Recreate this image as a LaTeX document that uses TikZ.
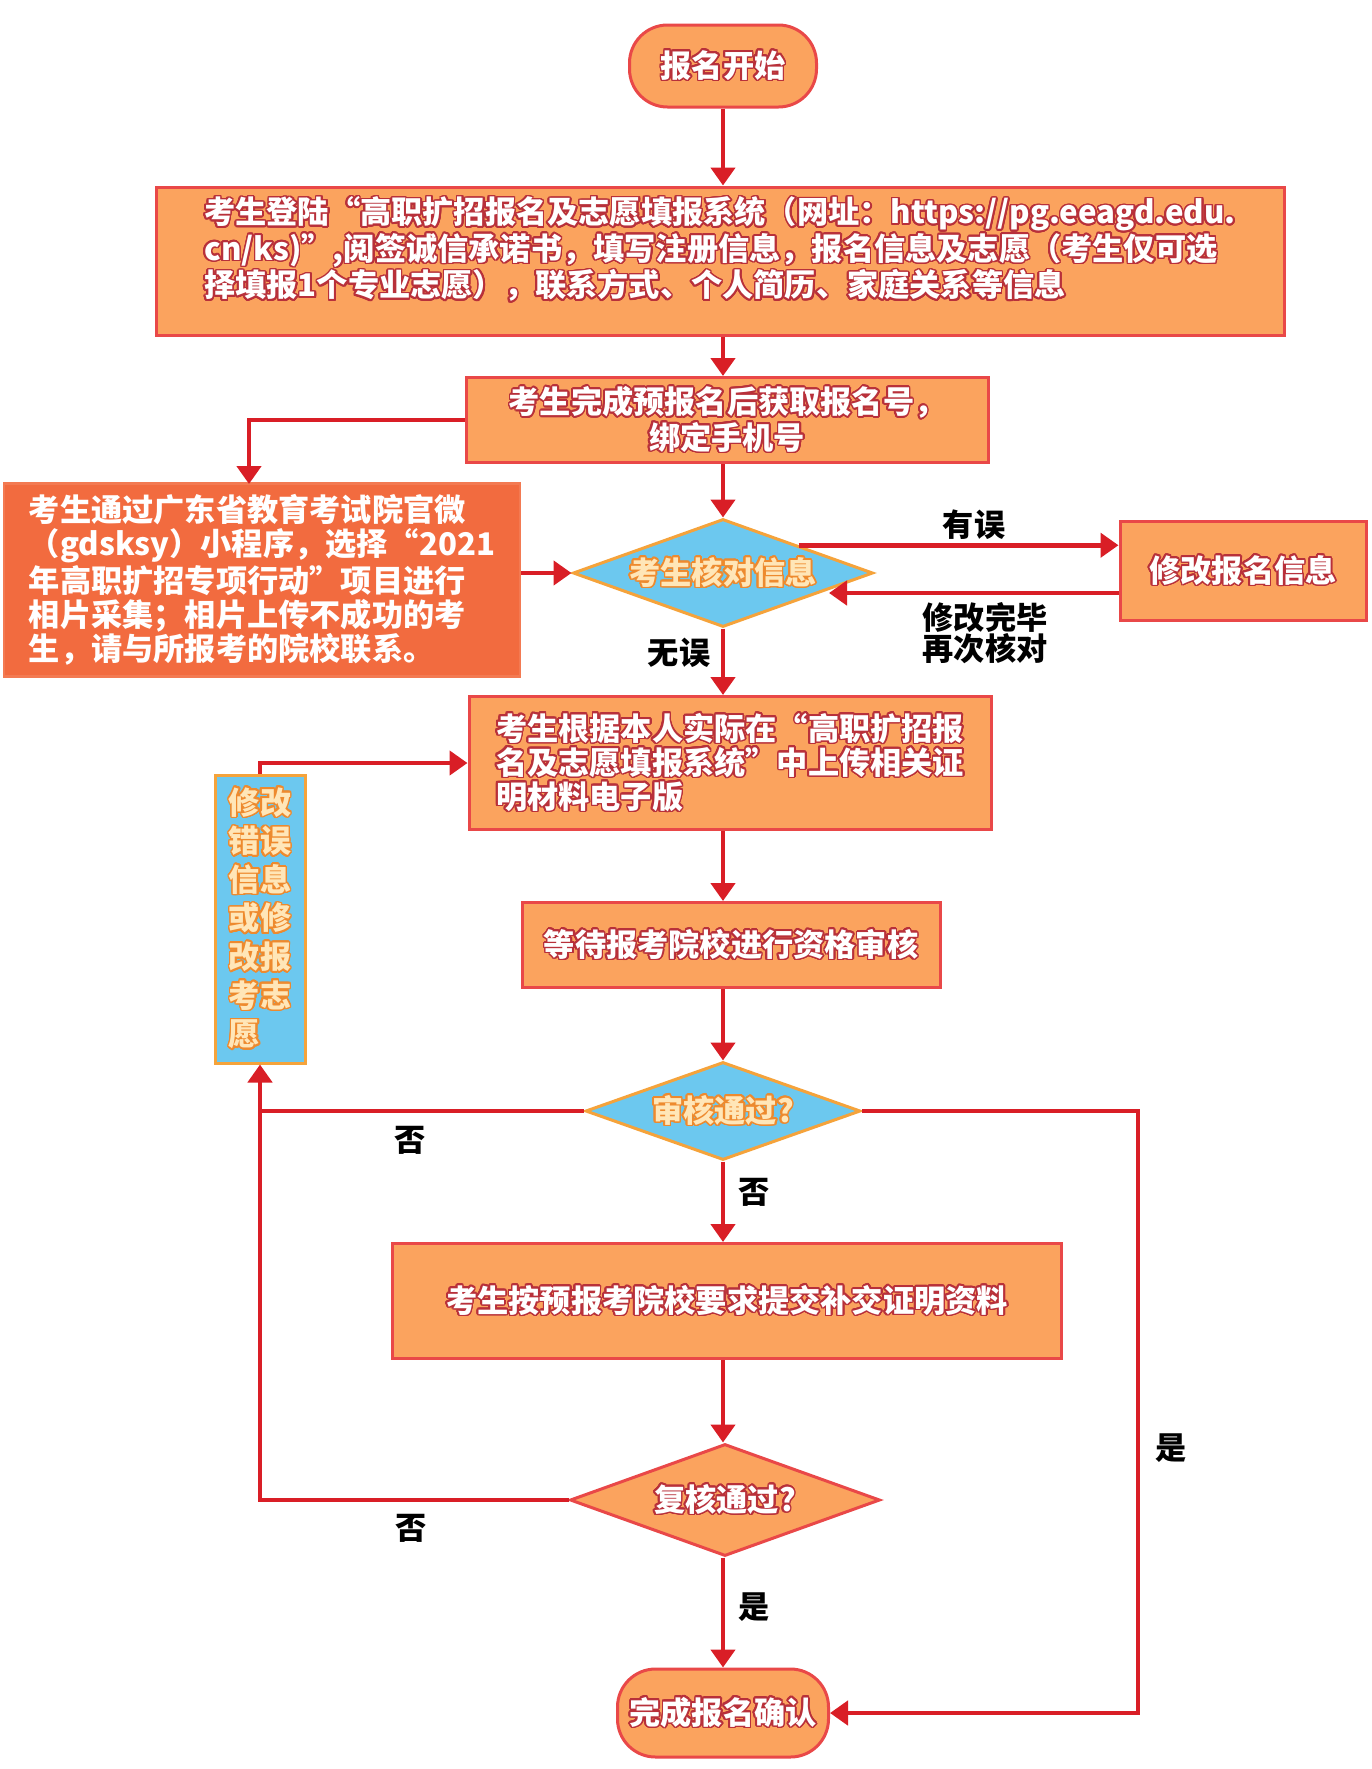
\documentclass[tikz,border=0pt]{standalone}
\usepackage{fontspec}
\setmainfont{Noto Sans CJK SC}
\usepackage{contour}
\contourlength{0.8pt}
\contournumber{24}
\usetikzlibrary{shapes.geometric,arrows.meta}
\definecolor{lnred}{HTML}{D91E26}
\definecolor{boxred}{HTML}{E94848}
\definecolor{boxfill}{HTML}{FBA35E}
\definecolor{lbfill}{HTML}{F26B3F}
\definecolor{bluefill}{HTML}{6CC8EF}
\definecolor{blueedge}{HTML}{F5A33B}
\definecolor{txred}{HTML}{B8303A}
\definecolor{txorange}{HTML}{EE8A2E}
\definecolor{cream}{HTML}{FFE6B8}
\newcommand\wt[1]{\contour{txred}{#1}}
\newcommand\ct[1]{\contour{txorange}{#1}}
\tikzset{
  base/.style={inner sep=0pt, font=\bfseries\fontsize{15.6}{17}\selectfont},
  obox/.style={base, draw=boxred, line width=1.5pt, fill=boxfill, text=white},
  lbox/.style={base, draw=lbfill!90!white, line width=1.2pt, fill=lbfill, text=white},
  bbox/.style={base, draw=blueedge, line width=1.5pt, fill=bluefill, text=cream},
  bdia/.style={base, diamond, aspect=2.8, draw=blueedge, line width=1.5pt, fill=bluefill, text=cream},
  odia/.style={base, diamond, aspect=2.8, draw=boxred, line width=1.5pt, fill=boxfill, text=white},
  term/.style={obox, rounded corners=19pt},
  txt/.style={base, text=white},
  conn/.style={draw=lnred, line width=2.3pt},
  arr/.style={conn, -{Triangle[length=9pt,width=12pt]}},
  lbl/.style={base, text=black},
}
\begin{document}
\begin{tikzpicture}[x=0.5pt,y=-0.5pt]
\fill[white] (0,0) rectangle (1372,1769);
\useasboundingbox (0,0) rectangle (1372,1769);

% nodes
\node[term, minimum width=93.5pt, minimum height=41pt] (start) at (723,66) {\wt{报名开始}};
\node[obox, minimum width=564pt, minimum height=74pt] (b1) at (720,261) {};
\node[txt, align=left, font=\bfseries\fontsize{15.6}{18.3}\selectfont] (b1t) at (720,250)
  {\wt{考生登陆“高职扩招报名及志愿填报系统（网址：https://pg.eeagd.edu.}\\
   \wt{cn/ks)”,阅签诚信承诺书，填写注册信息，报名信息及志愿（考生仅可选}\\
   \wt{择填报1个专业志愿），联系方式、个人简历、家庭关系等信息}};
\node[obox, minimum width=261pt, minimum height=42.5pt, align=center,
      font=\bfseries\fontsize{15.6}{16}\selectfont] (b2) at (727,420)
  {\wt{考生完成预报名后获取报名号，}\\\wt{绑定手机号}};
\node[lbox, minimum width=258pt, minimum height=96.5pt, align=left] (lb) at (262,580)
  {考生通过广东省教育考试院官微\\
   （gdsksy）小程序，选择“2021\\
   年高职扩招专项行动”项目进行\\
   相片采集；相片上传不成功的考\\
   生，请与所报考的院校联系。};
\node[bdia, minimum width=150pt, minimum height=54pt] (d1) at (723,573) {\ct{考生核对信息}};
\node[obox, minimum width=123pt, minimum height=49.5pt] (fix) at (1243,571) {\wt{修改报名信息}};
\node[obox, minimum width=261pt, minimum height=66.5pt, align=left] (b3) at (730,763)
  {\wt{考生根据本人实际在“高职扩招报}\\
   \wt{名及志愿填报系统”中上传相关证}\\
   \wt{明材料电子版}};
\node[bbox, minimum width=45pt, minimum height=144pt, align=left,
      font=\bfseries\fontsize{15.6}{19.3}\selectfont] (blue) at (260,919)
  {\ct{修改}\\\ct{错误}\\\ct{信息}\\\ct{或修}\\\ct{改报}\\\ct{考志}\\\ct{愿}};
\node[obox, minimum width=209pt, minimum height=42.5pt] (b4) at (731,945) {\wt{等待报考院校进行资格审核}};
\node[bdia, minimum width=137.5pt, minimum height=49pt] (d2) at (723,1111) {\ct{审核通过?}};
\node[obox, minimum width=334.5pt, minimum height=57.5pt] (b5) at (727,1301) {\wt{考生按预报考院校要求提交补交证明资料}};
\node[odia, minimum width=155pt, minimum height=56pt] (d3) at (725,1500) {\wt{复核通过?}};
\node[term, minimum width=105.5pt, minimum height=44pt] (end) at (723,1713) {\wt{完成报名确认}};

\coordinate (d1in) at (829,593);
\coordinate (rt) at (1138,1111);
\coordinate (lbtop) at (249,484);

% connectors
\draw[arr] (start.south) -- (start.south |- b1.north);
\draw[arr] (b1.south -| start) -- (start |- b2.north);
\draw[arr] (b2.west) -| (lbtop);
\draw[arr] (b2.south -| start) -- (d1.north);
\draw[arr] (lb.east |- d1.west) -- (d1.west);
\draw[arr] (d1.north east) -- (d1.north east -| fix.west);
\draw[arr] ([yshift=-11pt]fix.west) -- (d1in);
\draw[arr] (d1.south) -- (d1.south |- b3.north);
\draw[arr] (blue.north) |- (b3.west);
\draw[arr] (b3.south -| d1) -- (d1 |- b4.north);
\draw[arr] (b4.south -| d2) -- (d2.north);
\draw[arr] (d2.west) -| (blue.south);
\draw[arr] (d2.south) -- (d2.south |- b5.north);
\draw[arr] (d2.east) -- (rt) |- (end.east);
\draw[arr] (b5.south -| d2) -- (d2 |- d3.north);
\draw[conn] (d3.west) -| (blue.south |- d2.west);
\draw[arr] (d3.south -| d2) -- (d2 |- end.north);

% labels
\node[lbl] (l1) at (974,525) {有误};
\node[lbl, align=center, font=\bfseries\fontsize{15.6}{15.5}\selectfont] (l2) at (985,633) {修改完毕\\再次核对};
\node[lbl] (l3) at (679,653) {无误};
\node[lbl] (l4) at (410,1140) {否};
\node[lbl] (l5) at (754,1192) {否};
\node[lbl] (l6) at (1171,1448) {是};
\node[lbl] (l7) at (411,1528) {否};
\node[lbl] (l8) at (754,1607) {是};
\end{tikzpicture}
\end{document}
